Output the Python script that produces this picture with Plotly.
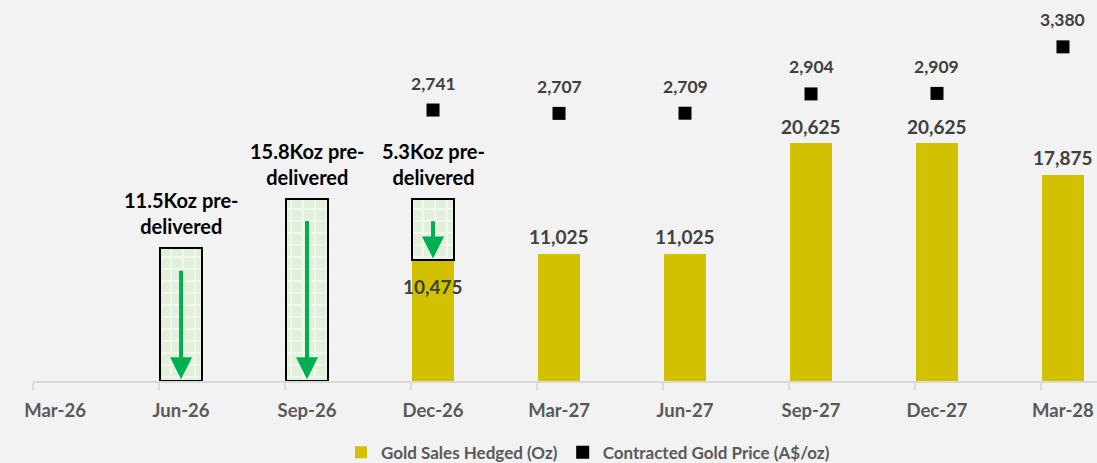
import plotly.graph_objects as go

quarters = ["Mar-26", "Jun-26", "Sep-26", "Dec-26", "Mar-27", "Jun-27", "Sep-27", "Dec-27", "Mar-28"]
gold_hedged = [0, 0, 0, 10475, 11025, 11025, 20625, 20625, 17875]
gold_price = [None, None, None, 2741, 2707, 2709, 2904, 2909, 3380]
pre_delivered = [0, 11500, 15800, 5300, 0, 0, 0, 0, 0]
pre_delivered_text = ["", "11.5Koz pre-<br>delivered", "15.8Koz pre-<br>delivered",
                      "5.3Koz pre-<br>delivered", "", "", "", "", ""]

GOLD = "#d1c100"
FONT = "Lato"

x = list(range(len(quarters)))

fig = go.Figure()

fig.add_trace(
    go.Bar(
        x=x,
        y=gold_hedged,
        width=0.34,
        marker=dict(color=GOLD, line=dict(width=0)),
        name="Gold Sales Hedged (Oz)",
        yaxis="y",
    )
)

# pre-delivered boxes sitting on top of hedged bars
fig.add_trace(
    go.Bar(
        x=[i for i in x if pre_delivered[i] > 0],
        y=[pre_delivered[i] for i in x if pre_delivered[i] > 0],
        base=[gold_hedged[i] for i in x if pre_delivered[i] > 0],
        width=0.34,
        marker=dict(
            color="#e2efda",
            line=dict(color="black", width=2),
            pattern=dict(shape="+", fgcolor="#ffffff", bgcolor="#e2efda", size=12, solidity=0.3),
        ),
        showlegend=False,
        hoverinfo="skip",
        yaxis="y",
    )
)

fig.add_trace(
    go.Scatter(
        x=x,
        y=gold_price,
        mode="markers",
        marker=dict(symbol="square", color="black", size=13),
        name="Contracted Gold Price (A$/oz)",
        yaxis="y2",
    )
)

annotations = []

for i in x:
    # bar value labels
    if gold_hedged[i] > 0:
        inside = pre_delivered[i] > 0
        annotations.append(
            dict(
                x=i, y=gold_hedged[i], xref="x", yref="y",
                text=f"{gold_hedged[i]:,}",
                showarrow=False,
                yshift=-26 if inside else 17,
                font=dict(family=FONT, size=19, color="#404040", weight="bold"),
            )
        )

    # price labels
    if gold_price[i] is not None:
        annotations.append(
            dict(
                x=i, y=gold_price[i], xref="x", yref="y2",
                text=f"{gold_price[i]:,}",
                showarrow=False,
                yshift=27,
                font=dict(family=FONT, size=17.5, color="#404040", weight="bold"),
            )
        )

    # pre-delivered arrows + text
    if pre_delivered[i] > 0:
        top = gold_hedged[i] + pre_delivered[i]
        annotations.append(
            dict(
                x=i, y=gold_hedged[i] + 150, xref="x", yref="y",
                ax=i, ay=top - 1800, axref="x", ayref="y",
                text="", showarrow=True,
                arrowhead=2, arrowsize=1.1, arrowwidth=4, arrowcolor="#00b050",
            )
        )
        annotations.append(
            dict(
                x=i, y=top, xref="x", yref="y",
                text=pre_delivered_text[i],
                showarrow=False,
                yanchor="bottom", yshift=8,
                font=dict(family=FONT, size=20, color="black", weight="bold"),
            )
        )

fig.update_layout(
    width=1097,
    height=463,
    margin=dict(l=33, r=0, t=35, b=82),
    paper_bgcolor="#f2f2f2",
    plot_bgcolor="#f2f2f2",
    barmode="overlay",
    bargap=0,
    annotations=annotations,
    font=dict(family=FONT, color="#595959"),
    xaxis=dict(
        range=[-0.175, 8.27],
        tickmode="array",
        tickvals=x,
        ticktext=quarters,
        ticks="",
        ticklabelstandoff=12,
        tickfont=dict(family=FONT, size=18.5, color="#595959", weight="bold"),
        showline=True,
        linecolor="#d9d9d9",
        linewidth=2,
        showgrid=False,
        zeroline=False,
        automargin=False,
        minor=dict(
            tickmode="array",
            tickvals=[i - 0.175 for i in x],
            ticks="outside",
            ticklen=7,
            tickcolor="#d9d9d9",
            tickwidth=2,
            showgrid=False,
        ),
    ),
    yaxis=dict(range=[0, 30000], visible=False, showgrid=False, zeroline=False),
    yaxis2=dict(range=[0, 3500], visible=False, overlaying="y", side="right",
                showgrid=False, zeroline=False),
    legend=dict(
        orientation="h",
        xref="container", x=0.536, xanchor="center",
        yref="container", y=0.022, yanchor="middle",
        font=dict(family=FONT, size=17, color="#595959", weight="bold"),
        bgcolor="rgba(0,0,0,0)",
        itemwidth=30,
    ),
)

fig.write_html(
    "out.html",
    config={"displayModeBar": False},
    post_script="document.body.style.margin='0';document.body.style.background='#f2f2f2';",
)
